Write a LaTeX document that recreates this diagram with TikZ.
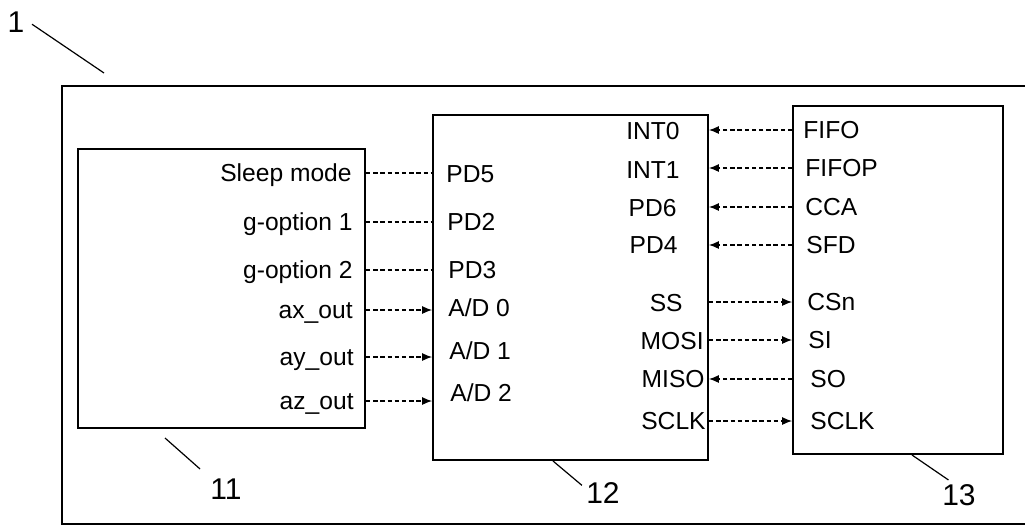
\documentclass[tikz,border=0pt]{standalone}
\usepackage{fontspec}
\setmainfont{Liberation Sans}
\usetikzlibrary{arrows.meta, positioning}
\tikzset{
	block/.style={rectangle, draw=black, line width=0.9pt, inner sep=0pt},
	pin/.style={inner sep=0pt, text height=8.8pt, text depth=0pt, font=\fontsize{12.3}{14}\selectfont},
	refnum/.style={inner sep=2pt, font=\fontsize{15}{18}\selectfont},
	link/.style={black, line width=0.6pt, dash pattern=on 2.2pt off 1.4pt},
	linkarrow/.style={link, -{Latex[length=5pt, width=4pt]}},
	leader/.style={black, line width=0.6pt},
}

\begin{document}
\begin{tikzpicture}[x=0.5pt, y=-0.5pt]
	\useasboundingbox (0,0) rectangle (1025,531);
	% device frame, open to the right
	\draw[line width=0.9pt] (1030,86) -- (62,86) -- (62,524) -- (1030,524);

	\node[block, minimum width=143.5pt, minimum height=139.5pt] (b11) at (221.5,288.5) {};
	\node[block, minimum width=137.5pt, minimum height=172.5pt] (b12) at (570.5,287.5) {};
	\node[block, minimum width=105pt, minimum height=174pt] (b13) at (898,280) {};

	% sensor outputs
	\node[pin, anchor=east] (sleep) at (352,173) {Sleep mode};
	\node[pin, anchor=east] (gopt1) at (353,222) {g-option 1};
	\node[pin, anchor=east] (gopt2) at (353,270) {g-option 2};
	\node[pin, anchor=east] (axout) at (353,310) {ax\_out};
	\node[pin, anchor=east] (ayout) at (354,357) {ay\_out};
	\node[pin, anchor=east] (azout) at (354,401) {az\_out};

	% controller pins
	\node[pin, anchor=west] (pd5) at (446,174) {PD5};
	\node[pin, anchor=west] (pd2) at (447,222) {PD2};
	\node[pin, anchor=west] (pd3) at (448,270) {PD3};
	\node[pin, anchor=west] (ad0) at (448,308) {A/D 0};
	\node[pin, anchor=west] (ad1) at (449,351) {A/D 1};
	\node[pin, anchor=west] (ad2) at (450,393) {A/D 2};
	\node[pin, anchor=east] (int0) at (680,131) {INT0};
	\node[pin, anchor=east] (int1) at (680,170) {INT1};
	\node[pin, anchor=east] (pd6) at (677,208) {PD6};
	\node[pin, anchor=east] (pd4) at (678,245) {PD4};
	\node[pin, anchor=east] (ss) at (683,303) {SS};
	\node[pin, anchor=east] (mosi) at (704,341) {MOSI};
	\node[pin, anchor=east] (miso) at (705,379) {MISO};
	\node[pin, anchor=east] (sclkm) at (706,421) {SCLK};

	% radio pins
	\node[pin, anchor=west] (fifo) at (803,130) {FIFO};
	\node[pin, anchor=west] (fifop) at (805,168) {FIFOP};
	\node[pin, anchor=west] (cca) at (805,207) {CCA};
	\node[pin, anchor=west] (sfd) at (806,245) {SFD};
	\node[pin, anchor=west] (csn) at (807,302) {CSn};
	\node[pin, anchor=west] (si) at (808,340) {SI};
	\node[pin, anchor=west] (so) at (810,379) {SO};
	\node[pin, anchor=west] (sclkr) at (810,421) {SCLK};

	% sensor to controller
	\draw[link] (sleep.east -| b11.east) -- (sleep.east -| b12.west);
	\draw[link] (gopt1.east -| b11.east) -- (gopt1.east -| b12.west);
	\draw[link] (gopt2.east -| b11.east) -- (gopt2.east -| b12.west);
	\draw[linkarrow] (axout.east -| b11.east) -- (axout.east -| b12.west);
	\draw[linkarrow] (ayout.east -| b11.east) -- (ayout.east -| b12.west);
	\draw[linkarrow] (azout.east -| b11.east) -- (azout.east -| b12.west);

	% radio to controller and back
	\draw[linkarrow] (fifo.west -| b13.west) -- (fifo.west -| b12.east);
	\draw[linkarrow] (fifop.west -| b13.west) -- (fifop.west -| b12.east);
	\draw[linkarrow] (cca.west -| b13.west) -- (cca.west -| b12.east);
	\draw[linkarrow] (sfd.west -| b13.west) -- (sfd.west -| b12.east);
	\draw[linkarrow] (csn.west -| b12.east) -- (csn.west -| b13.west);
	\draw[linkarrow] (si.west -| b12.east) -- (si.west -| b13.west);
	\draw[linkarrow] (so.west -| b13.west) -- (so.west -| b12.east);
	\draw[linkarrow] (sclkr.west -| b12.east) -- (sclkr.west -| b13.west);

	% reference numerals
	\node[refnum] (n1) at (16,22) {1};
	\node[refnum] (n11) at (226,489) {11};
	\node[refnum] (n12) at (603,493) {12};
	\node[refnum] (n13) at (959,495) {13};
	\coordinate (c1) at (104,73);
	\coordinate (c11) at (165,438);
	\coordinate (c12) at (553,461);
	\coordinate (c13) at (912,455);
	\draw[leader, shorten <=2pt] (n1.east) -- (c1);
	\draw[leader, shorten >=4pt] (c11) -- (n11.north west);
	\draw[leader] (c12) -- (n12.160);
	\draw[leader] (c13) -- (n13.125);
\end{tikzpicture}
\end{document}
